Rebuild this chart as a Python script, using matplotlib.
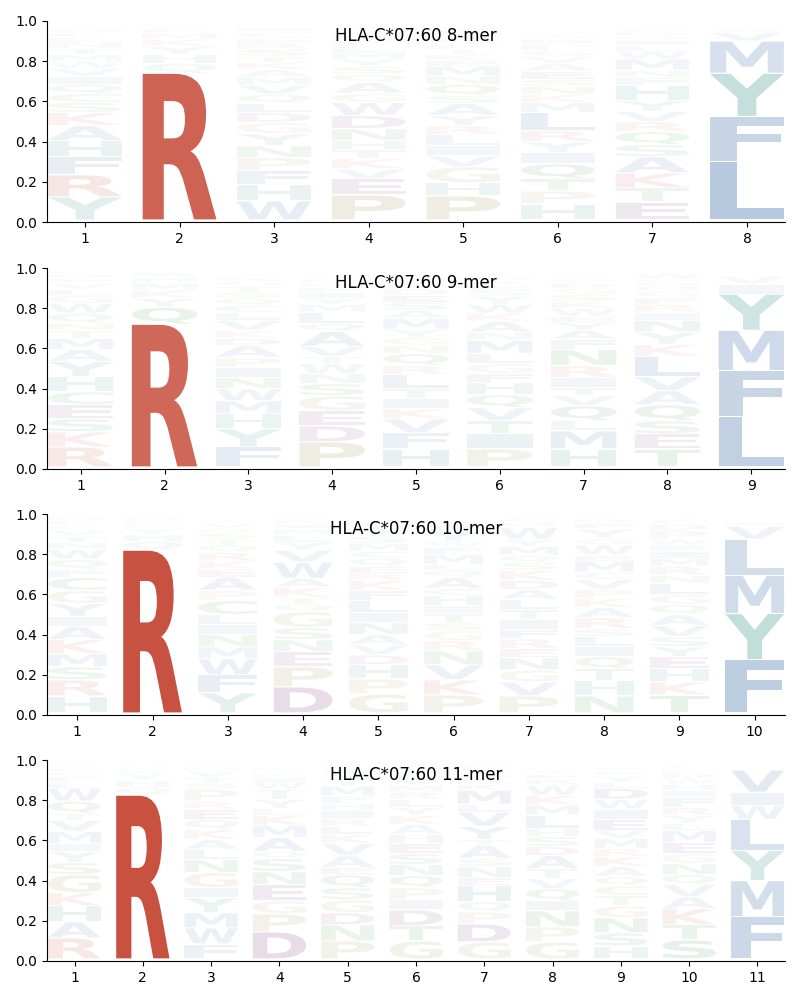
import matplotlib
matplotlib.use("Agg")
import matplotlib.pyplot as plt
from matplotlib.textpath import TextPath
from matplotlib.patches import PathPatch
from matplotlib.font_manager import FontProperties
from matplotlib.transforms import Affine2D

allele = "HLA-C*07:60"

# letter stacks per position, bottom -> top, with their heights
mer8_letters = ["YRFHAKSCQIVWMTNLEDG", "RQHYKMLS", "WHFPNYGDLQVMAKTSRECI",
                "PEVKTHNDWGAQSYMLFRIC", "PHGVILRYASQNMEKTFDWC", "HPTQIYRLMKNSEAVGFDWC",
                "ETKASQRVYHFNMWLIGDC", "LFYMVW"]
mer8_heights = [
    [.115, .11, .09, .08, .075, .065, .05, .045, .045, .04, .04, .035, .035, .03, .03, .025, .02, .02, .015],
    [.73, .05, .045, .04, .035, .03, .025, .015],
    [.095, .08, .07, .065, .06, .06, .055, .05, .045, .045, .045, .04, .04, .035, .03, .035, .03, .025, .03, .025],
    [.125, .08, .05, .05, .045, .045, .06, .065, .065, .045, .055, .04, .04, .035, .035, .03, .03, .025, .02, .015],
    [.12, .065, .08, .055, .05, .055, .045, .05, .06, .04, .055, .04, .05, .03, .03, .025, .025, .02, .02, .03],
    [.08, .065, .06, .075, .055, .055, .055, .09, .05, .04, .04, .035, .04, .04, .035, .03, .03, .025, .02, .015],
    [.09, .07, .075, .08, .06, .065, .05, .05, .055, .075, .04, .035, .055, .04, .03, .025, .02, .02, .02],
    [.29, .225, .215, .16, .045, .02],
]

mer9_letters = ["RKSECHYAMTNQWGLVFDP", "RQYKMHS", "FYHMWNIPADKVLCQSTGRE",
                "PDEGSNWTVAQLMYIFRHC", "HFVKITLRQNGYMASEDPWC", "PITVQHFGLMNAKWYSERD",
                "HMLQVTIRNFAYEWKSGDPC", "TESQAVLKYNIRFGMDPW", "LFMYIV"]
mer9_heights = [
    [.1, .075, .065, .07, .065, .075, .075, .06, .055, .04, .035, .05, .05, .04, .03, .03, .025, .02, .015],
    [.71, .085, .045, .04, .035, .03, .025],
    [.1, .09, .075, .065, .06, .055, .05, .05, .06, .035, .04, .05, .04, .035, .035, .03, .03, .025, .02, .015],
    [.125, .08, .075, .075, .06, .05, .05, .035, .05, .075, .04, .055, .04, .03, .03, .025, .02, .02, .015],
    [.09, .08, .07, .05, .05, .05, .07, .045, .06, .04, .04, .04, .055, .04, .04, .035, .03, .03, .02, .015],
    [.09, .075, .065, .065, .065, .06, .045, .05, .05, .065, .04, .055, .04, .045, .04, .03, .025, .02, .015],
    [.09, .09, .05, .075, .05, .04, .05, .06, .08, .05, .045, .04, .03, .04, .035, .035, .03, .025, .02, .015],
    [.09, .075, .065, .08, .07, .07, .1, .06, .06, .06, .04, .04, .035, .03, .025, .02, .015, .03],
    [.25, .23, .2, .18, .05, .04],
]

mer10_letters = ["HRSMKAIYGCFQWNTVLED", "RQHYSKM", "YFWMNILCPAEKRQTSGVH",
                 "DPENSGQTKAWVYLMIRF", "GPHDVANILFKREQCMSTYW", "PKVNRGSTIHCAQLMFWYDE",
                 "PVGNERFITLADKSQMYWHC", "NHTQILSRAKPVCMEWGYFD", "TKHEYSVAQGLNRMIFWPDC",
                 "FYMLVI"]
mer10_heights = [
    [.085, .08, .065, .065, .07, .065, .05, .065, .065, .065, .04, .05, .05, .035, .03, .03, .025, .02, .015],
    [.81, .045, .035, .03, .02, .02, .015],
    [.1, .09, .08, .06, .06, .05, .05, .07, .05, .065, .04, .04, .045, .035, .03, .03, .025, .025, .015],
    [.13, .1, .075, .06, .06, .08, .035, .035, .05, .045, .08, .06, .04, .035, .03, .025, .02, .015],
    [.095, .075, .07, .05, .05, .05, .06, .05, .06, .05, .05, .035, .035, .04, .035, .04, .035, .03, .03, .02],
    [.09, .075, .075, .07, .05, .05, .04, .045, .04, .05, .035, .055, .035, .03, .05, .035, .03, .05, .03, .025],
    [.085, .07, .06, .06, .045, .05, .045, .05, .05, .05, .05, .045, .05, .04, .035, .045, .035, .06, .025, .02],
    [.085, .075, .06, .06, .05, .05, .04, .055, .05, .045, .045, .05, .035, .055, .03, .05, .035, .045, .03, .02],
    [.09, .065, .065, .06, .05, .05, .055, .055, .05, .05, .055, .04, .045, .04, .035, .03, .03, .045, .03, .025],
    [.265, .23, .19, .18, .065, .02],
]

mer11_letters = ["RAHKGSYIMVTQWLFEDP", "RQHYSM", "FWMYIGNLAKQERPSTVHD",
                 "DPGENSQAMKLYTWIRFH", "PNDGSQEAVKLRIHFMTYWC", "GTDIPQNSEHAKYLRMVFWC",
                 "GDPQHENSATYVLMKRIFWC", "GPNIQVTADSHLMKWREYF", "HSNGTCQAKRMVEIWDLYFP",
                 "STKAVQNGEMLYRFIHWDPC", "FMYLWIV"]
mer11_heights = [
    [.105, .08, .08, .065, .09, .06, .055, .04, .06, .055, .035, .06, .065, .03, .03, .02, .015, .015],
    [.815, .04, .035, .03, .02, .015],
    [.075, .08, .075, .075, .05, .075, .065, .05, .05, .05, .05, .05, .04, .06, .03, .03, .03, .02, .015],
    [.135, .09, .065, .08, .065, .065, .035, .07, .06, .05, .035, .045, .05, .035, .025, .02, .015, .015],
    [.09, .08, .06, .065, .06, .065, .035, .06, .06, .045, .04, .04, .04, .035, .035, .05, .03, .03, .025, .015],
    [.09, .075, .08, .05, .06, .06, .055, .055, .05, .045, .05, .045, .04, .04, .035, .035, .03, .025, .02, .015],
    [.085, .09, .06, .05, .08, .04, .055, .04, .065, .03, .065, .07, .04, .07, .03, .025, .02, .015, .02, .015],
    [.085, .075, .08, .05, .06, .05, .05, .065, .045, .05, .04, .065, .05, .05, .05, .03, .025, .02, .015],
    [.065, .065, .075, .06, .05, .05, .045, .05, .05, .04, .05, .04, .055, .05, .05, .055, .03, .03, .025, .015],
    [.095, .075, .08, .06, .06, .05, .055, .05, .055, .06, .035, .04, .04, .05, .035, .03, .03, .025, .02, .015],
    [.21, .18, .15, .155, .07, .065, .11],
]

# colour groups of the amino acids
red = (0.78, 0.30, 0.23)
blue = (0.20, 0.40, 0.64)
teal = (0.13, 0.53, 0.47)
olive = (0.60, 0.55, 0.25)
purple = (0.45, 0.15, 0.45)
green = (0.15, 0.55, 0.20)
aa_color = {"R": red, "K": red,
            "A": blue, "F": blue, "I": blue, "L": blue, "M": blue, "V": blue, "W": blue,
            "Y": teal, "H": teal,
            "P": olive, "G": olive,
            "D": purple, "E": purple,
            "S": green, "T": green, "N": green, "Q": green, "C": green}

font = FontProperties(family="DejaVu Sans", weight="bold")


def draw_letter(ax, letter, x, y, w, h, color, alpha):
    tp = TextPath((0, 0), letter, size=1, prop=font)
    bb = tp.get_extents()
    tr = (Affine2D().translate(-bb.x0, -bb.y0)
          .scale(w / bb.width, h / bb.height)
          .translate(x - w / 2, y))
    path = tr.transform_path(tp)
    ax.add_patch(PathPatch(path, facecolor=color, edgecolor="none", alpha=alpha))


def draw_logo(ax, letters, heights, title):
    n = len(letters)
    for i in range(n):
        y = 0.01
        for letter, h in zip(letters[i], heights[i]):
            pad = 0.003
            draw_letter(ax, letter, i + 1, y + pad, 0.78, h - 2 * pad,
                        aa_color[letter], min(1.0, 1.2 * h))
            y += h
    ax.set_xlim(0.6, n + 0.4)
    ax.set_ylim(0, 1)
    ax.set_xticks(range(1, n + 1))
    ax.spines["top"].set_visible(False)
    ax.spines["right"].set_visible(False)
    ax.text(0.5, 0.925, title, transform=ax.transAxes, ha="center", va="center", fontsize=12)


fig = plt.figure(figsize=(8, 10), dpi=100)
panels = [(mer8_letters, mer8_heights, "8-mer"),
          (mer9_letters, mer9_heights, "9-mer"),
          (mer10_letters, mer10_heights, "10-mer"),
          (mer11_letters, mer11_heights, "11-mer")]
bottoms = [0.778, 0.531, 0.285, 0.039]
for (letters, heights, length), b in zip(panels, bottoms):
    ax = fig.add_axes([0.059, b, 0.922, 0.201])
    draw_logo(ax, letters, heights, f"{allele} {length}")

fig.savefig("out.png", dpi=100)
